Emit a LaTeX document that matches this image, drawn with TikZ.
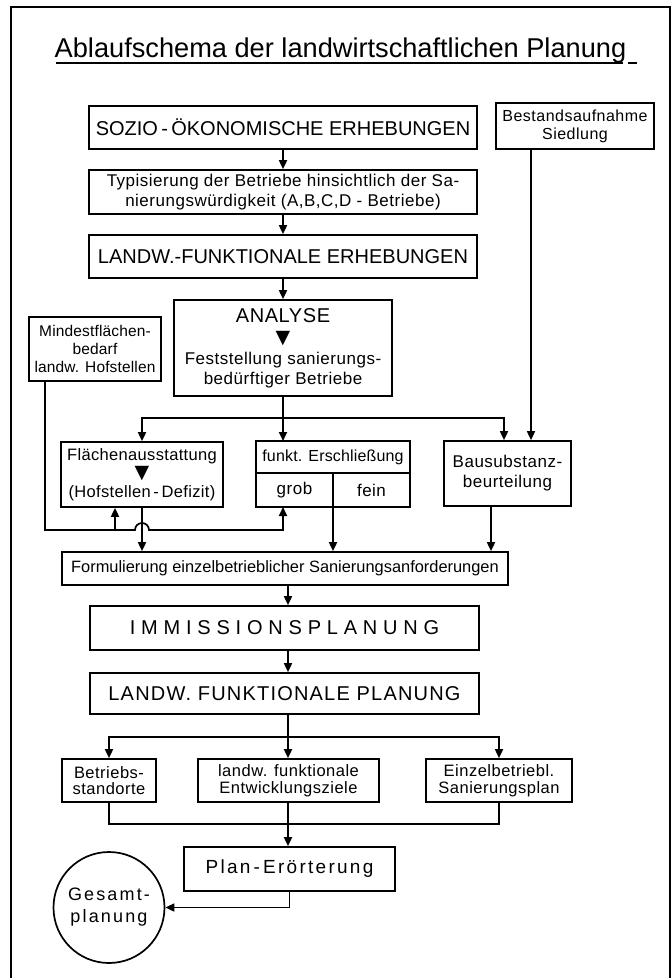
\documentclass[tikz,border=0pt]{standalone}
\usepackage{fontspec}
\setmainfont{Liberation Sans}
\newfontfamily\symfont{DejaVu Sans}
\usetikzlibrary{arrows.meta,positioning,shapes.geometric}

\newcommand{\downmark}{{\symfont\fontsize{19}{19}\selectfont ▼}}

\tikzset{
  box/.style={draw, line width=1.7pt, align=center, inner sep=0pt,
    font=\fontsize{17}{20}\selectfont\addfontfeature{LetterSpace=3}},
  bigbox/.style={box, font=\fontsize{20}{24}\selectfont},
  tightbox/.style={box, font=\fontsize{16.5}{16.5}\selectfont\addfontfeature{LetterSpace=3}},
  cell/.style={box, outer sep=0pt, minimum width=77pt, minimum height=34pt},
  conn/.style={line width=1.7pt},
  arr/.style={conn, -{Triangle[length=9pt,width=8pt]}},
}

\begin{document}
\begin{tikzpicture}[x=1pt,y=-1pt]
\useasboundingbox (0,0) rectangle (672,978);
% frame and title
\draw[conn] (11,990) -- (11,7) -- (670,7) -- (670,990);
\node[anchor=base, font=\fontsize{27.2}{32}\selectfont] (title) at (340.5,57) {Ablaufschema der landwirtschaftlichen Planung};
\draw[conn] (56,63) -- (623,63);
\draw[conn] (628,63) -- (637,63);

% surveys
\node[bigbox, minimum width=388pt, minimum height=43pt] (sozio) at (283,127.5) {SOZIO\,-\,ÖKONOMISCHE ERHEBUNGEN};
\node[box, minimum width=158pt, minimum height=46pt, font=\fontsize{16}{18}\selectfont\addfontfeature{LetterSpace=3}] (bestand) at (575,126) {Bestandsaufnahme\\Siedlung};
\node[box, minimum width=388pt, minimum height=44pt] (typ) at (283,192) {Typisierung der Betriebe hinsichtlich der Sa-\\nierungswürdigkeit (A,B,C,D - Betriebe)};
\node[bigbox, minimum width=388pt, minimum height=43pt] (lfe) at (283,256.5) {LANDW.-FUNKTIONALE ERHEBUNGEN};
\node[box, minimum width=218pt, minimum height=96pt] (analyse) at (283,348) {{\fontsize{20}{24}\selectfont ANALYSE}\\[1pt]\downmark\\[1pt]Feststellung sanierungs-\\bedürftiger Betriebe};
\node[box, minimum width=132pt, minimum height=64pt, font=\fontsize{15.5}{18}\selectfont\addfontfeature{LetterSpace=1}] (mindest) at (95,349) {Mindestflächen-\\bedarf\\landw. Hofstellen};

% requirements
\node[box, minimum width=162pt, minimum height=65pt, font=\fontsize{16.5}{18.5}\selectfont\addfontfeature{LetterSpace=2}] (flaeche) at (142,474.5) {Flächenausstattung\\\downmark\\(Hofstellen\,-\,Defizit)};
\node[box, outer sep=0pt, minimum width=154pt, minimum height=32pt, font=\fontsize{16}{19}\selectfont\addfontfeature{LetterSpace=1}] (funkt) at (333,457) {funkt. Erschließung};
\node[cell, anchor=north west] (grob) at (funkt.south west) {grob};
\node[cell, anchor=north east] (fein) at (funkt.south east) {fein};
\node[box, minimum width=127pt, minimum height=65pt, font=\fontsize{17}{20}\selectfont\addfontfeature{LetterSpace=3}] (bausub) at (507.5,473.5) {Bausubstanz-\\beurteilung};
\node[box, minimum width=446pt, minimum height=33pt, font=\fontsize{16.4}{20}\selectfont] (formul) at (285,568.5) {Formulierung einzelbetrieblicher Sanierungsanforderungen};

% planning
\node[bigbox, minimum width=389pt, minimum height=44pt, font=\fontsize{20}{24}\selectfont\addfontfeature{LetterSpace=29}] (imm) at (284.5,628) {IMMISSIONSPLANUNG};
\node[bigbox, minimum width=389pt, minimum height=41pt, font=\fontsize{20}{24}\selectfont\addfontfeature{LetterSpace=6}] (lfp) at (284.5,693.5) {LANDW. FUNKTIONALE PLANUNG};
\node[tightbox, minimum width=94pt, minimum height=43pt] (betr) at (109,780.5) {Betriebs-\\standorte};
\node[tightbox, minimum width=181pt, minimum height=43pt] (entw) at (288.5,780.5) {landw. funktionale\\Entwicklungsziele};
\node[tightbox, minimum width=146pt, minimum height=43pt] (einzel) at (499,780.5) {Einzelbetriebl.\\Sanierungsplan};
\node[box, minimum width=211pt, minimum height=44pt, font=\fontsize{19}{22}\selectfont\addfontfeature{LetterSpace=12}] (plan) at (289.5,869) {Plan\,-\,Erörterung};
\node[draw, circle, line width=1.7pt, minimum size=111pt, inner sep=0pt, align=center, font=\fontsize{18}{22}\selectfont\addfontfeature{LetterSpace=12}] (gesamt) at (109,907.5) {Gesamt-\\planung};

% connectors, upper part
\coordinate (fork1) at (283,418);
\coordinate (fbjump) at (135,530);
\draw[arr] (sozio) -- (typ);
\draw[arr] (typ) -- (lfe);
\draw[arr] (lfe.south) -- (lfe.south |- analyse.north);
\draw[conn] (analyse.south) -- (fork1);
\draw[arr] (fork1) -| (flaeche.north);
\draw[arr] (fork1) -- (fork1 |- funkt.north);
\draw[arr] (fork1) -| ([xshift=-3.5pt]bausub.north);
\draw[arr] ([xshift=-44pt]bestand.south) -- ([xshift=23.5pt]bausub.north);
\draw[arr] ([xshift=-50pt]mindest.south) |- (fbjump) arc[start angle=180, end angle=0, radius=7pt] -- (fbjump -| fork1) -- (grob.south -| fork1);
\draw[arr] ([xshift=-27pt]flaeche.south |- fbjump) -- ([xshift=-27pt]flaeche.south);
\draw[arr] (flaeche.south) -- (flaeche.south |- formul.north);
\draw[arr] (fein.south west) -- (fein.south west |- formul.north);
\draw[arr] ([xshift=-16.5pt]bausub.south) -- ([xshift=-16.5pt]bausub.south |- formul.north);

% connectors, lower part
\coordinate (fork2) at (288,737);
\coordinate (join) at (288,824);
\draw[arr] (formul.south -| fork2) -- (imm.north -| fork2);
\draw[arr] (imm.south -| fork2) -- (lfp.north -| fork2);
\draw[conn] (lfp.south -| fork2) -- (fork2);
\draw[arr] (fork2) -| (betr.north);
\draw[arr] (fork2) -- (fork2 |- entw.north);
\draw[arr] (fork2) -| (einzel.north);
\draw[conn] (betr.south) |- (join) -| (einzel.south);
\draw[arr] (entw.south -| join) -- (plan.north -| join);
\draw[arr] (plan.south) |- (gesamt.east);
\end{tikzpicture}
\end{document}
